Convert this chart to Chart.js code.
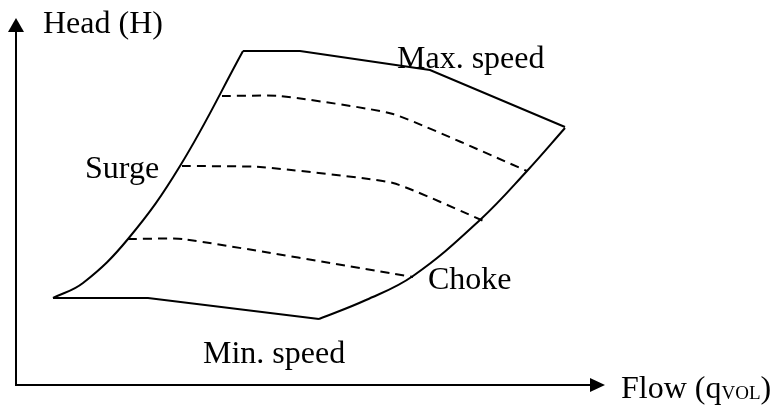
<!DOCTYPE html>
<html>
<head>
<meta charset="utf-8">
<script src="https://cdn.jsdelivr.net/npm/chart.js@4/dist/chart.umd.min.js"></script>
<style>
  html, body { margin: 0; padding: 0; background: #fff; }
  canvas { display: block; }
</style>
</head>
<body>
<canvas id="mapChart" width="773" height="407"></canvas>
<script>
// compressor map (flow / head in plot units)
const surgeFlow = [37, 67, 112, 164, 227];
const surgeHead = [87, 102, 146, 219, 334];

const maxSpeedFlow = [227, 284, 414, 549];
const maxSpeedHead = [334, 334, 315, 258];

const minSpeedFlow = [37, 132, 303];
const minSpeedHead = [87, 87, 66];

const chokeFlow = [303, 350, 397, 464, 511, 549];
const chokeHead = [66, 85, 109, 165, 214, 257];

const speed1Flow = [206, 264, 377, 511];
const speed1Head = [289, 289, 271, 214];
const speed2Flow = [166, 244, 377, 470];
const speed2Head = [219, 218, 202, 163];
const speed3Flow = [112, 167, 397];
const speed3Head = [146, 146, 108];

// axis extents
const flowAxisEnd = 589;
const headAxisEnd = 367;

const toPoints = (xs, ys) => xs.map((v, i) => ({ x: v, y: ys[i] }));

function solid(xs, ys, tension) {
    return {
        data: toPoints(xs, ys),
        borderColor: '#000',
        borderWidth: 2,
        pointRadius: 0,
        showLine: true,
        fill: false,
        tension: tension
    };
}

function dashed(xs, ys) {
    return {
        data: toPoints(xs, ys),
        borderColor: '#000',
        borderWidth: 2,
        borderDash: [9, 6],
        pointRadius: 0,
        showLine: true,
        fill: false,
        tension: 0.15
    };
}

const annotations = [
    { text: 'Head (H)', x: 27, y: 352 },
    { text: 'Max. speed', x: 381, y: 317 },
    { text: 'Surge', x: 69, y: 207 },
    { text: 'Choke', x: 412, y: 96 },
    { text: 'Min. speed', x: 187, y: 22 }
];

const diagramPlugin = {
    id: 'diagram',
    afterDatasetsDraw(chart) {
        const { ctx, scales: { x, y } } = chart;
        const ox = x.getPixelForValue(0);
        const oy = y.getPixelForValue(0);
        const xEnd = x.getPixelForValue(flowAxisEnd);
        const yEnd = y.getPixelForValue(headAxisEnd);

        ctx.save();
        ctx.strokeStyle = '#000';
        ctx.fillStyle = '#000';
        ctx.lineWidth = 2;

        ctx.beginPath();
        ctx.moveTo(ox, yEnd + 10);
        ctx.lineTo(ox, oy);
        ctx.lineTo(xEnd - 10, oy);
        ctx.stroke();

        // arrow heads
        ctx.beginPath();
        ctx.moveTo(ox, yEnd);
        ctx.lineTo(ox - 8, yEnd + 14);
        ctx.lineTo(ox + 8, yEnd + 14);
        ctx.closePath();
        ctx.fill();

        ctx.beginPath();
        ctx.moveTo(xEnd, oy);
        ctx.lineTo(xEnd - 15, oy - 7);
        ctx.lineTo(xEnd - 15, oy + 7);
        ctx.closePath();
        ctx.fill();

        const serif = '"Liberation Serif", "Times New Roman", serif';
        ctx.font = '32px ' + serif;
        ctx.textAlign = 'left';
        ctx.textBaseline = 'alphabetic';
        annotations.forEach(a => {
            ctx.fillText(a.text, x.getPixelForValue(a.x), y.getPixelForValue(a.y));
        });

        // Flow (q_VOL) label with subscript
        let tx = xEnd + 16;
        const ty = oy + 13;
        ctx.fillText('Flow (q', tx, ty);
        tx += ctx.measureText('Flow (q').width;
        ctx.font = '19px ' + serif;
        ctx.fillText('VOL', tx, ty + 1);
        tx += ctx.measureText('VOL').width;
        ctx.font = '32px ' + serif;
        ctx.fillText(')', tx, ty);
        ctx.restore();
    }
};

new Chart(document.getElementById('mapChart'), {
    type: 'scatter',
    data: {
        datasets: [
            solid(surgeFlow, surgeHead, 0.4),
            solid(maxSpeedFlow, maxSpeedHead, 0),
            solid(minSpeedFlow, minSpeedHead, 0),
            solid(chokeFlow, chokeHead, 0.4),
            dashed(speed1Flow, speed1Head),
            dashed(speed2Flow, speed2Head),
            dashed(speed3Flow, speed3Head)
        ]
    },
    options: {
        responsive: false,
        animation: false,
        devicePixelRatio: 1,
        layout: { padding: 0 },
        plugins: {
            legend: { display: false },
            tooltip: { enabled: false }
        },
        scales: {
            x: { type: 'linear', min: -16, max: 757, display: false },
            y: { type: 'linear', min: -22, max: 385, display: false }
        }
    },
    plugins: [diagramPlugin]
});
</script>
</body>
</html>
